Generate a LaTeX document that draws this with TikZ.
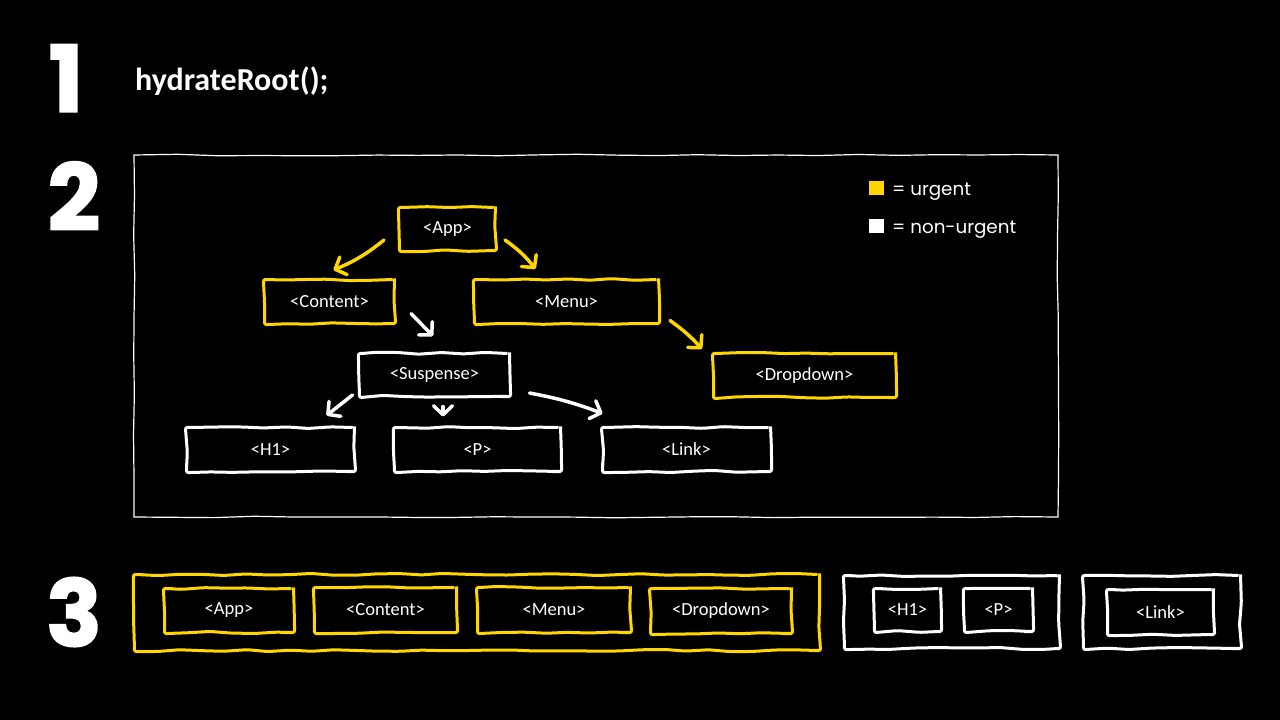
\documentclass[tikz,border=0pt]{standalone}
\usepackage{fontspec}
\setmainfont{Carlito}
\newfontfamily\legendfont{Poppins}
\newfontfamily\numfont{Poppins}[FakeBold=2]
\usetikzlibrary{arrows.meta,decorations.pathmorphing,calc}
\definecolor{urg}{RGB}{255,214,0}
\tikzset{
 sketch/.style={decorate,decoration={random steps,segment length=22pt,amplitude=1.1pt},rounded corners=2pt},
 box/.style={draw,sketch,line width=3pt,inner sep=0pt,text=white,font=\fontsize{18.5}{21}\selectfont},
 ybox/.style={box,draw=urg},
 wbox/.style={box,draw=white},
 arr/.style={line width=3.5pt,line cap=round,line join=round,-{Straight Barb[length=9pt,width=19pt,round]}},
 yarr/.style={arr,draw=urg},
 warr/.style={arr,draw=white},
 num/.style={text=white,inner sep=0pt,font=\numfont\bfseries\fontsize{92}{92}\selectfont},
 legend/.style={text=white,anchor=west,inner sep=0pt,font=\legendfont\fontsize{18.3}{21}\selectfont},
}
\begin{document}
\begin{tikzpicture}[x=1pt,y=-1pt]
\fill[black] (0,0) rectangle (1280,720);
\useasboundingbox (0,0) rectangle (1280,720);

% step numbers and title
\node[num] (n1) at (66,78) {1};
\node[num] (n2) at (74,196) {2};
\node[num] (n3) at (74,612) {3};
\node[text=white,anchor=west,inner sep=0pt,font=\bfseries\fontsize{32}{36}\selectfont] (title) at (135,81) {hydrateRoot();};

% frame of step 2
\draw[white,line width=1.2pt,decorate,decoration={random steps,segment length=40pt,amplitude=0.8pt}] (134,155) rectangle (1058,517);

% legend
\fill[urg] (869,181) rectangle (884,195);
\node[legend] (lu) at (892,192) {= urgent};
\fill[white] (869,219) rectangle (884,233);
\node[legend] (ln) at (892,230) {= non-urgent};

% tree
\node[ybox,minimum width=96pt,minimum height=43pt] (app) at (447.5,229) {<App>};
\node[ybox,minimum width=130pt,minimum height=44pt] (content) at (329.5,301.5) {<Content>};
\node[ybox,minimum width=184pt,minimum height=44pt] (menu) at (566.5,301.5) {<Menu>};
\node[ybox,minimum width=182pt,minimum height=44pt] (dropdown) at (804.5,375.5) {<Dropdown>};
\node[wbox,minimum width=150pt,minimum height=43pt] (suspense) at (434.5,375) {<Suspense>};
\node[wbox,minimum width=168pt,minimum height=44pt] (h1) at (270.5,449.5) {<H1>};
\node[wbox,minimum width=166pt,minimum height=44pt] (p) at (477.5,449.5) {<P>};
\node[wbox,minimum width=168pt,minimum height=44pt] (link) at (686.5,449.5) {<Link>};

\draw[yarr] ($(app.west)+(-14,11)$) to[bend left=8] ($(content.north)+(4,-8)$);
\draw[yarr] ($(app.east)+(8,11)$) to[bend left=8] ($(menu.north)+(-31,-9)$);
\draw[warr] ($(content.east)+(15,12)$) -- ($(suspense.north)+(-1.5,-16)$);
\draw[yarr] ($(menu.east)+(10,19)$) to[bend left=6] ($(dropdown.north west)+(-10,-3)$);
\draw[warr] ($(suspense.west)+(-5.5,20)$) -- ($(h1.north east)+(-29.5,-10.5)$);
\draw[warr] ($(suspense.south)+(8.5,8.5)$) -- ($(p.north)+(-34.5,-9.5)$);
\draw[warr] ($(suspense.east)+(18.5,18)$) to[bend left=5] ($(link.north west)+(1.5,-12.5)$);

% step 3 groups
\node[ybox,minimum width=685pt,minimum height=76pt] (gu) at (477,612.5) {};
\node[ybox,minimum width=129pt,minimum height=44pt] (bapp) at (229,610.5) {<App>};
\node[ybox,minimum width=142pt,minimum height=45pt] (bcontent) at (385.5,610) {<Content>};
\node[ybox,minimum width=153pt,minimum height=45pt] (bmenu) at (554,610) {<Menu>};
\node[ybox,minimum width=141pt,minimum height=45pt] (bdrop) at (721,611) {<Dropdown>};

\node[wbox,minimum width=215pt,minimum height=73pt] (gw1) at (952,612) {};
\node[wbox,minimum width=66pt,minimum height=43pt] (bh1) at (907.5,610) {<H1>};
\node[wbox,minimum width=68pt,minimum height=43pt] (bp) at (998.5,610) {<P>};

\node[wbox,minimum width=157pt,minimum height=73pt] (gw2) at (1162,612) {};
\node[wbox,minimum width=106pt,minimum height=45pt] (blink) at (1160.5,612) {<Link>};
\end{tikzpicture}
\end{document}
